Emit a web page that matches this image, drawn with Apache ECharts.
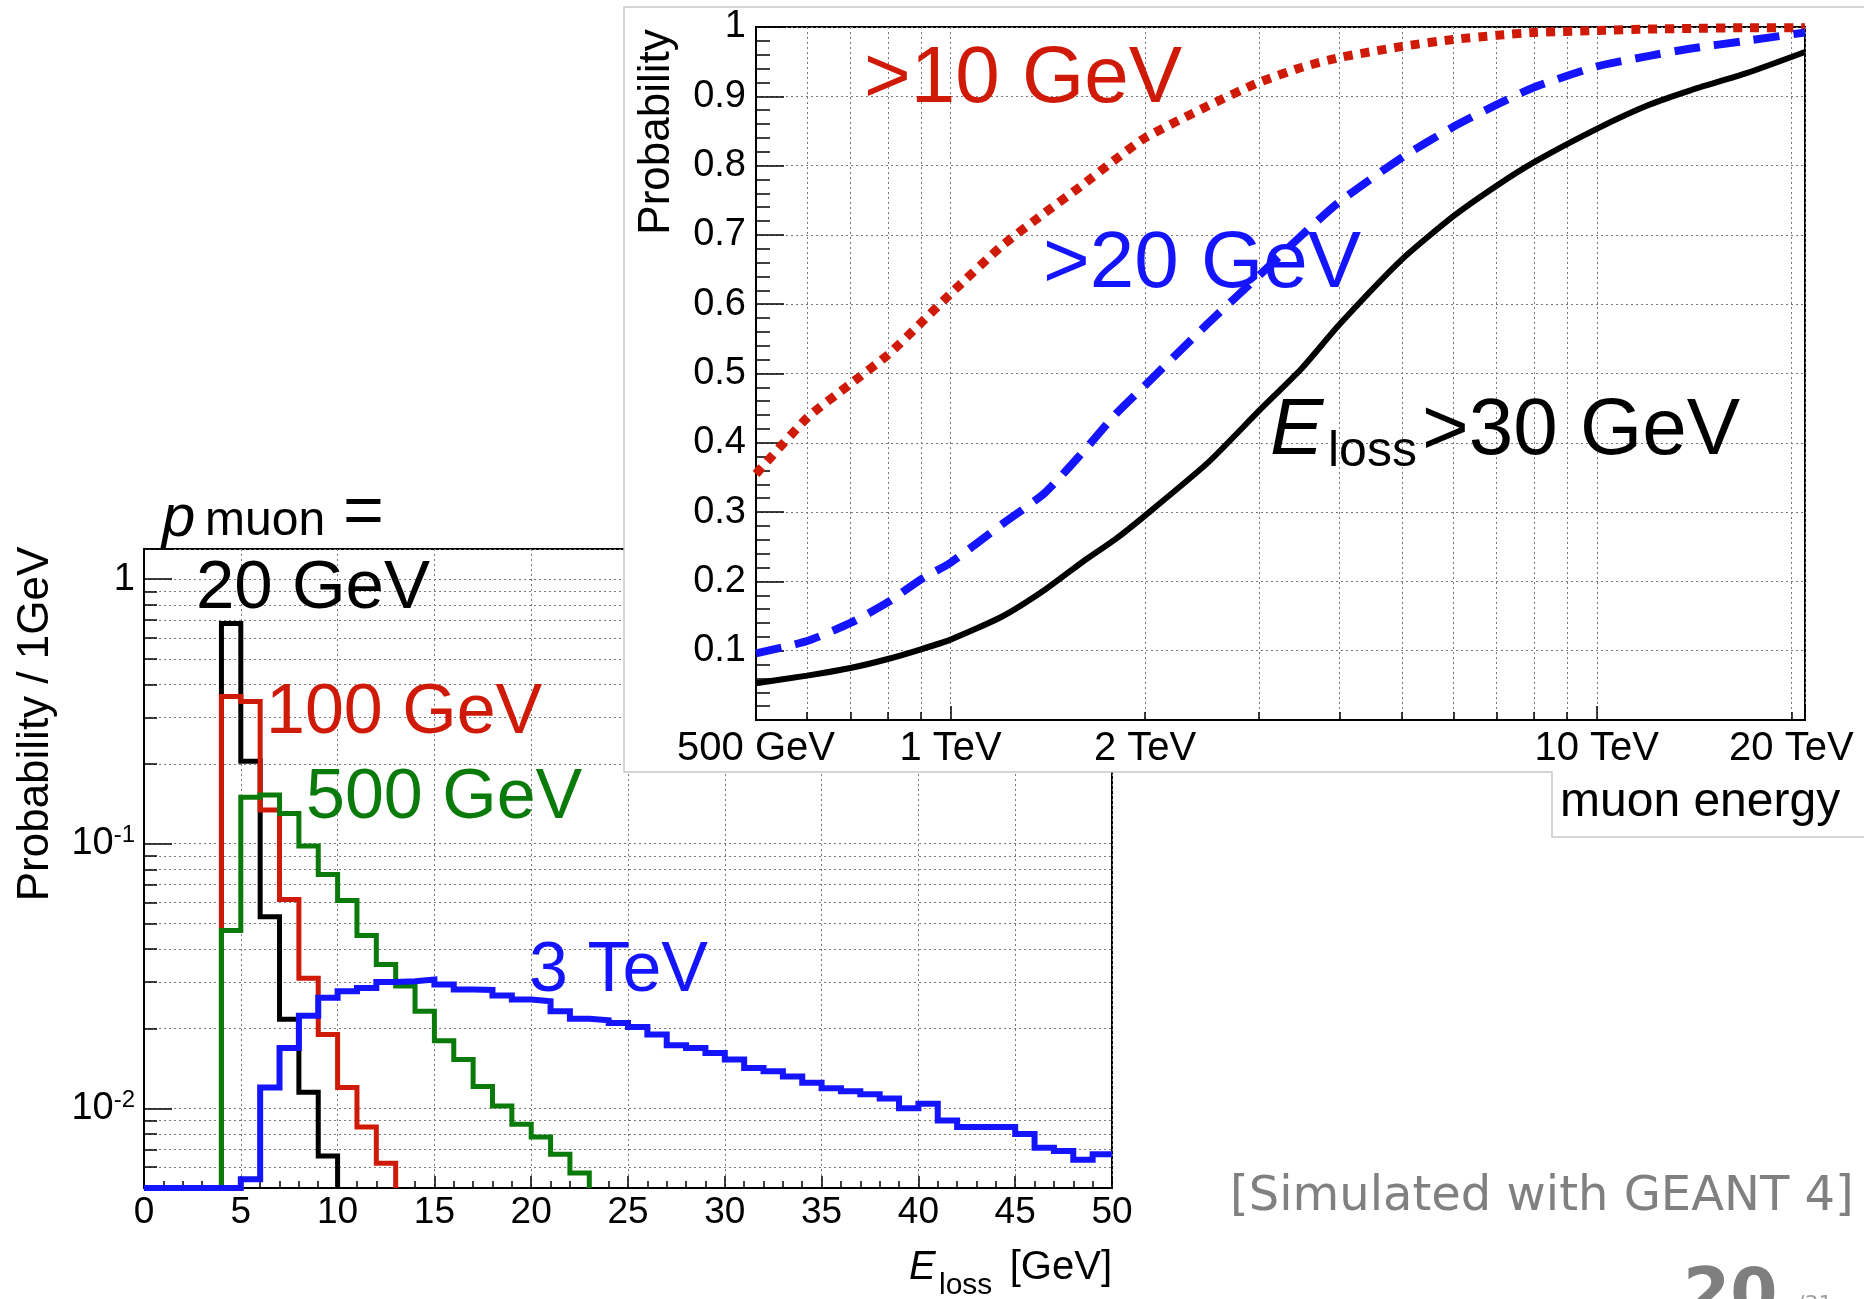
<!DOCTYPE html>
<html><head><meta charset="utf-8">
<script src="https://cdn.jsdelivr.net/npm/echarts@6/dist/echarts.min.js"></script>
<style>html,body{margin:0;padding:0;background:#fff}#c{width:1864px;height:1299px}</style>
</head><body><div id="c"></div><script>
// ---------- Main histogram: probability per 1 GeV bin of E_loss ----------
// each array lists consecutive 1-GeV bins starting at the given lower edge
const start20GeV = 4;
const hist20GeV = [0.68, 0.205, 0.053, 0.0217, 0.0115, 0.0066];
const start100GeV = 4;
const hist100GeV = [0.36, 0.345, 0.134, 0.0615, 0.031, 0.019, 0.012, 0.0085, 0.0062];
const start500GeV = 4;
const hist500GeV = [0.047, 0.150, 0.153, 0.130, 0.098, 0.0765, 0.061, 0.045, 0.035, 0.029,
  0.0233, 0.0180, 0.0153, 0.0121, 0.0102, 0.0087, 0.0078, 0.0067, 0.0057];
const start3TeV = 0;
const hist3TeV = [0, 0, 0, 0, 0, 0.0054, 0.0120, 0.0169, 0.0224, 0.0262, 0.0277, 0.0285, 0.0300,
  0.0302, 0.0307, 0.0294, 0.0281, 0.0280, 0.0267, 0.0258, 0.0254, 0.0233, 0.0218, 0.0215, 0.0210,
  0.0203, 0.0190, 0.0173, 0.0169, 0.0162, 0.0153, 0.0142, 0.0138, 0.0132, 0.0125, 0.0119, 0.0116,
  0.0113, 0.0109, 0.0100, 0.0104, 0.0090, 0.0085, 0.0085, 0.0085, 0.0080, 0.0071, 0.0069, 0.0064, 0.0067];
const mainXTicks = [0, 5, 10, 15, 20, 25, 30, 35, 40, 45, 50];
const mainYMin = 0.005, mainYMax = 1.3;

// ---------- Inset: probability of E_loss above threshold vs muon energy ----------
const muonEnergyGeV = [500, 600, 700, 800, 900, 1000, 1200, 1400, 1600, 1800, 2000, 2500, 3000,
  3500, 4000, 5000, 6000, 7000, 8000, 10000, 12000, 14000, 17000, 21000];
const probAbove10 = [0.355, 0.436, 0.485, 0.527, 0.573, 0.615, 0.684, 0.732, 0.772, 0.809, 0.84,
  0.886, 0.92, 0.942, 0.956, 0.972, 0.982, 0.988, 0.992, 0.995, 0.997, 0.998, 0.999, 0.999];
const probAbove20 = [0.096, 0.114, 0.14, 0.170, 0.203, 0.227, 0.282, 0.328, 0.386, 0.441, 0.483,
  0.572, 0.641, 0.70, 0.748, 0.812, 0.856, 0.888, 0.913, 0.943, 0.958, 0.969, 0.980, 0.992];
const probAbove30 = [0.053, 0.064, 0.075, 0.088, 0.102, 0.116, 0.149, 0.188, 0.228, 0.261, 0.295,
  0.371, 0.446, 0.508, 0.571, 0.665, 0.727, 0.771, 0.805, 0.853, 0.887, 0.909, 0.933, 0.964];
const insetTickValues = [500, 1000, 2000, 10000, 20000];
const insetTickLabels = ['500 GeV', '1 TeV', '2 TeV', '10 TeV', '20 TeV'];

const FF = 'Liberation Sans';
const RED = '#cf1a08', GREEN = '#0a7a0a', BLUE = '#1414ff', BLACK = '#000000';

function stepData(start, vals, floor, xmax) {
  const d = [[start, floor]];
  vals.forEach((v, i) => d.push([start + i, Math.max(v, floor)]));
  const end = start + vals.length;
  d.push([end, Math.max(vals[vals.length - 1], floor)]);
  if (end < xmax) d.push([end, floor]);
  return d;
}
function histSeries(data, color, width) {
  return {
    type: 'line', xAxisIndex: 0, yAxisIndex: 0, step: 'end', data, showSymbol: false,
    symbol: 'none', clip: false, zlevel: 0, z: 3,
    lineStyle: { color, width, cap: 'butt', join: 'miter' }
  };
}
function insetSeries(ys, color, width, type) {
  return {
    type: 'line', xAxisIndex: 1, yAxisIndex: 1, smooth: 0.2, symbol: 'none', clip: false,
    data: muonEnergyGeV.map((e, i) => [e, ys[i]]), zlevel: 1, z: 6,
    lineStyle: { color, width, type, cap: 'butt' }
  };
}
const dotted = { color: '#7a7a7a', width: 1, type: [2, 3] };
const txt = (x, y, text, size, fill, extra) => ({
  type: 'text', x, y, zlevel: 0, z: 10,
  style: Object.assign({ text, fontSize: size, fontFamily: FF, fill, align: 'left', verticalAlign: 'middle' }, extra || {})
});

const chart = echarts.init(document.getElementById('c'), null, { renderer: 'canvas' });
chart.setOption({
  animation: false,
  backgroundColor: '#ffffff',
  grid: [
    { left: 144, top: 549, width: 968, height: 639, show: true, borderColor: '#000', borderWidth: 2,
      backgroundColor: 'transparent', zlevel: 0, z: 0, outerBoundsMode: 'none', containLabel: false },
    { left: 756, top: 27, width: 1049, height: 693, show: true, borderColor: '#000', borderWidth: 2,
      backgroundColor: 'transparent', zlevel: 1, z: 2, outerBoundsMode: 'none', containLabel: false }
  ],
  xAxis: [
    { type: 'value', gridIndex: 0, min: mainXTicks[0], max: mainXTicks[mainXTicks.length - 1], interval: 5,
      zlevel: 0, z: 1,
      axisLine: { show: true, lineStyle: { color: '#000', width: 2 } },
      axisTick: { show: true, inside: true, length: 12, lineStyle: { color: '#000', width: 1.5 } },
      minorTick: { show: true, splitNumber: 5, length: 7, lineStyle: { color: '#000', width: 1.5 } },
      axisLabel: { show: true, margin: 6, fontSize: 37, fontFamily: FF, color: '#000' },
      splitLine: { show: true, lineStyle: dotted } },
    { type: 'log', logBase: 10, gridIndex: 1, min: 500, max: 21000, zlevel: 1, z: 4,
      axisLine: { show: true, lineStyle: { color: '#000', width: 2 } },
      axisTick: { show: true, inside: true, length: 14, lineStyle: { color: '#000', width: 1.5 } },
      minorTick: { show: true, splitNumber: 9, length: 8, lineStyle: { color: '#000', width: 1.5 } },
      axisLabel: { show: true, margin: 9, fontSize: 40, fontFamily: FF, color: '#000',
        customValues: insetTickValues,
        formatter: v => { const i = insetTickValues.findIndex(t => Math.abs(t - v) / t < 1e-6); return i >= 0 ? insetTickLabels[i] : ''; } },
      splitLine: { show: true, lineStyle: dotted },
      minorSplitLine: { show: true, lineStyle: dotted } }
  ],
  yAxis: [
    { type: 'log', logBase: 10, gridIndex: 0, min: mainYMin, max: mainYMax, zlevel: 0, z: 1,
      axisLine: { show: true, lineStyle: { color: '#000', width: 2 } },
      axisTick: { show: true, inside: true, length: 28, lineStyle: { color: '#000', width: 1.5 } },
      minorTick: { show: true, splitNumber: 9, length: 13, lineStyle: { color: '#000', width: 1.5 } },
      axisLabel: { show: true, margin: 9, color: '#000',
        formatter: v => {
          const l = Math.log10(v), e = Math.round(l);
          if (Math.abs(l - e) > 1e-6) return '';
          if (e === 0) return '{b|1}';
          return '{b|10}{s|' + e + '}';
        },
        rich: {
          b: { fontSize: 38, fontFamily: FF, color: '#000', lineHeight: 40 },
          s: { fontSize: 24, fontFamily: FF, color: '#000', lineHeight: 24, verticalAlign: 'top' }
        } },
      splitLine: { show: true, lineStyle: dotted },
      minorSplitLine: { show: true, lineStyle: dotted } },
    { type: 'value', gridIndex: 1, min: 0, max: 1, interval: 0.1, zlevel: 1, z: 4,
      axisLine: { show: true, lineStyle: { color: '#000', width: 2 } },
      axisTick: { show: true, inside: true, length: 28, lineStyle: { color: '#000', width: 1.5 } },
      minorTick: { show: true, splitNumber: 5, length: 14, lineStyle: { color: '#000', width: 1.5 } },
      axisLabel: { show: true, margin: 10, fontSize: 38, fontFamily: FF, color: '#000',
        formatter: v => (v < 1e-9 ? '' : String(+v.toFixed(1))) },
      splitLine: { show: true, lineStyle: dotted } }
  ],
  series: [
    histSeries(stepData(start20GeV, hist20GeV, mainYMin, 50), BLACK, 5),
    histSeries(stepData(start100GeV, hist100GeV, mainYMin, 50), RED, 5),
    histSeries(stepData(start500GeV, hist500GeV, mainYMin, 50), GREEN, 5),
    histSeries(stepData(start3TeV, hist3TeV, mainYMin, 50), BLUE, 6),
    insetSeries(probAbove10, RED, 9, [9, 8]),
    insetSeries(probAbove20, BLUE, 8, [26, 14]),
    insetSeries(probAbove30, BLACK, 6, 'solid')
  ],
  graphic: { elements: [
    // inset background panel (covers main chart)
    { type: 'polygon', zlevel: 1, z: 0,
      shape: { points: [[624, 7], [1866, 7], [1866, 837], [1552, 837], [1552, 772], [624, 772]] },
      style: { fill: '#ffffff', stroke: '#c8c8c8', lineWidth: 1.5 } },
    // main chart titles
    Object.assign(txt(36, 724, 'Probability / 1GeV', 44, '#000', { align: 'center' }), { rotation: Math.PI / 2 }),
    txt(909, 1268, 'E', 40, '#000', { fontStyle: 'italic' }),
    txt(939, 1286, 'loss', 30, '#000'),
    txt(1112, 1268, '[GeV]', 40, '#000', { align: 'right' }),
    txt(162, 519, 'p', 60, '#000', { fontStyle: 'italic' }),
    txt(205, 522, 'muon', 48, '#000'),
    txt(343, 515, '=', 70, '#000'),
    txt(196, 589, '20 GeV', 69, BLACK),
    txt(266, 714, '100 GeV', 70, RED),
    txt(306, 799, '500 GeV', 70, GREEN),
    txt(529, 972, '3 TeV', 70, BLUE),
    // inset titles
    Object.assign(txt(657, 132, 'Probability', 44, '#000', { align: 'center' }), { rotation: Math.PI / 2, zlevel: 1 }),
    Object.assign(txt(1560, 803, 'muon energy', 48, '#000'), { zlevel: 1 }),
    Object.assign(txt(864, 80, '>10 GeV', 80, RED), { zlevel: 1 }),
    Object.assign(txt(1043, 265, '>20 GeV', 80, BLUE), { zlevel: 1 }),
    Object.assign(txt(1270, 432, 'E', 80, '#000', { fontStyle: 'italic' }), { zlevel: 1 }),
    Object.assign(txt(1328, 452, 'loss', 50, '#000'), { zlevel: 1 }),
    Object.assign(txt(1422, 432, '>30 GeV', 80, '#000'), { zlevel: 1 }),
    // slide annotations
    txt(1230, 1198, '[Simulated with GEANT 4]', 48, '#808080', { fontFamily: 'DejaVu Sans' }),
    txt(1683, 1298, '20', 68, '#7f7f7f', { fontFamily: 'DejaVu Sans', fontWeight: 'bold' }),
    txt(1797, 1305, '/31', 22, '#a0a0a0', { fontFamily: 'DejaVu Sans' })
  ] }
});
</script></body></html>
